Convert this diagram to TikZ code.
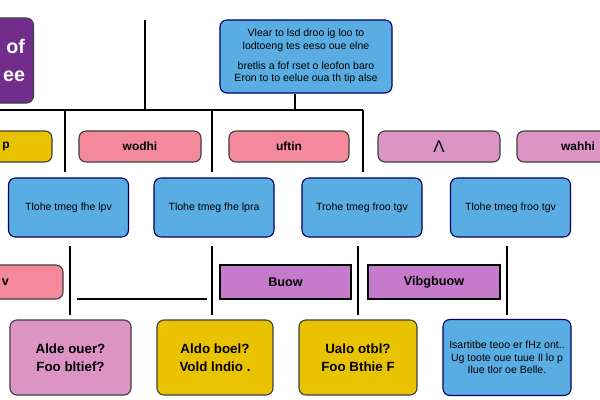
\documentclass[tikz,border=0pt]{standalone}
\usepackage{fontspec}
\setmainfont{Liberation Sans}
\usetikzlibrary{positioning}

\definecolor{boxblue}{HTML}{5AADE3}
\definecolor{boxpink}{HTML}{F4899C}
\definecolor{boxyellow}{HTML}{E9C300}
\definecolor{boxmauve}{HTML}{DC94C4}
\definecolor{boxviolet}{HTML}{C57ACB}
\definecolor{boxplum}{HTML}{712C8C}

\begin{document}
\begin{tikzpicture}[x=0.025cm, y=-0.025cm,
      entity/.style={draw=black!75, rounded corners=5pt, align=center, line width=0.8pt, inner sep=2pt},
      card/.style={entity, fill=boxblue, draw=blue!40!black, font=\fontsize{7.5}{9}\selectfont},
      tag/.style={entity, minimum height=0.775cm, font=\fontsize{8.5}{10}\selectfont\bfseries},
      band/.style={draw=black, line width=1.6pt, minimum height=0.85cm, font=\fontsize{9}{11}\selectfont\bfseries},
      query/.style={entity, minimum height=1.875cm, font=\fontsize{9.5}{12.5}\selectfont\bfseries},
      wire/.style={line width=2pt}
    ]
    \useasboundingbox (0,0) rectangle (600,400);
    \fill[white] (0,0) rectangle (600,400);
    \clip (0,0) rectangle (600,400);

    % top row
    \node[entity, fill=boxplum, text=white, minimum width=2.25cm, minimum height=2.125cm,
          align=right, text width=2cm, inner xsep=6pt, font=\fontsize{14}{20}\selectfont\bfseries] (plum) at (-15,60.5) {of\\ee};
    \node[card, minimum width=4.3cm, minimum height=1.825cm] (brief) at (306,56.5)
      {Vlear to lsd droo ig loo to\\lodtoeng tes eeso oue elne\\[5pt]bretlis a fof rset o leofon baro\\Eron to to eelue oua th tip alse};

    % trunk
    \coordinate (j0) at (-10,110);
    \coordinate (j1) at (65,110);
    \coordinate (j2) at (145,110);
    \coordinate (j3) at (212,110);
    \coordinate (j4) at (295,110);
    \coordinate (j5) at (363,110);
    \coordinate (top) at (145,20);
    \draw[wire] (j0) -- (j5);
    \draw[wire] (top) -- (j2);
    \draw[wire] (brief.south -| j4) -- (j4);
    \draw[wire] (j1) -- ++(0,62);
    \draw[wire] (j3) -- ++(0,62);
    \draw[wire] (j5) -- ++(0,62);

    % second row
    \node[tag, fill=boxyellow, minimum width=3.05cm] (t1) at (-9,146.5) {\hspace*{0.75cm}p};
    \node[tag, fill=boxpink, minimum width=3.05cm] (t2) at (140,146.5) {wodhi};
    \node[tag, fill=boxpink, minimum width=3cm] (t3) at (289,146.5) {uftin};
    \node[tag, fill=boxmauve, minimum width=3.05cm, font=\fontsize{12}{14}\selectfont] (t4) at (439,146.5) {Λ};
    \node[tag, fill=boxmauve, minimum width=3.05cm] (t5) at (578,146.5) {wahhi};

    % third row
    \foreach \n/\x/\txt in {c1/68.5/Tlohe tmeg fhe lpv, c2/214/Tlohe tmeg fhe lpra,
                            c3/362/Trohe tmeg froo tgv, c4/510.5/Tlohe tmeg froo tgv}
      \node[card, minimum width=3cm, minimum height=1.475cm] (\n) at (\x,207.5) {\txt};

    \foreach \n/\x in {c1/70,c2/212,c3/358,c4/507}
      \draw[wire] ([yshift=-0.2cm]\n.south -| \x,0) -- ++(0,69);
    \coordinate (h1) at (77,299);
    \coordinate (h2) at (207,299);
    \draw[wire] (h1) -- (h2);

    % fourth row
    \node[entity, fill=boxpink, minimum width=3.075cm, minimum height=0.85cm,
          font=\fontsize{9}{11}\selectfont\bfseries] (p1) at (1.5,282) {\hspace*{0.2cm}v};
    \node[band, fill=boxviolet, minimum width=3.275cm] (p2) at (285.5,282) {Buow};
    \node[band, fill=boxviolet, minimum width=3.3cm] (p3) at (434,282) {Vibgbuow};

    % bottom row
    \node[query, fill=boxmauve, minimum width=3.025cm] (q1) at (70.5,357.5) {Alde ouer?\\Foo bltief?};
    \node[query, fill=boxyellow, minimum width=2.9cm] (q2) at (215,357.5) {Aldo boel?\\Vold lndio .};
    \node[query, fill=boxyellow, minimum width=2.95cm] (q3) at (358,357.5) {Ualo otbl?\\Foo Bthie F};
    \node[card, minimum width=3.2cm, minimum height=1.9cm] (q4) at (507,357.5)
      {Isartitbe teoo er fHz ont..\\Ug toote oue tuue Il lo p\\Ilue tlor oe Belle.};
  \end{tikzpicture}
\end{document}
